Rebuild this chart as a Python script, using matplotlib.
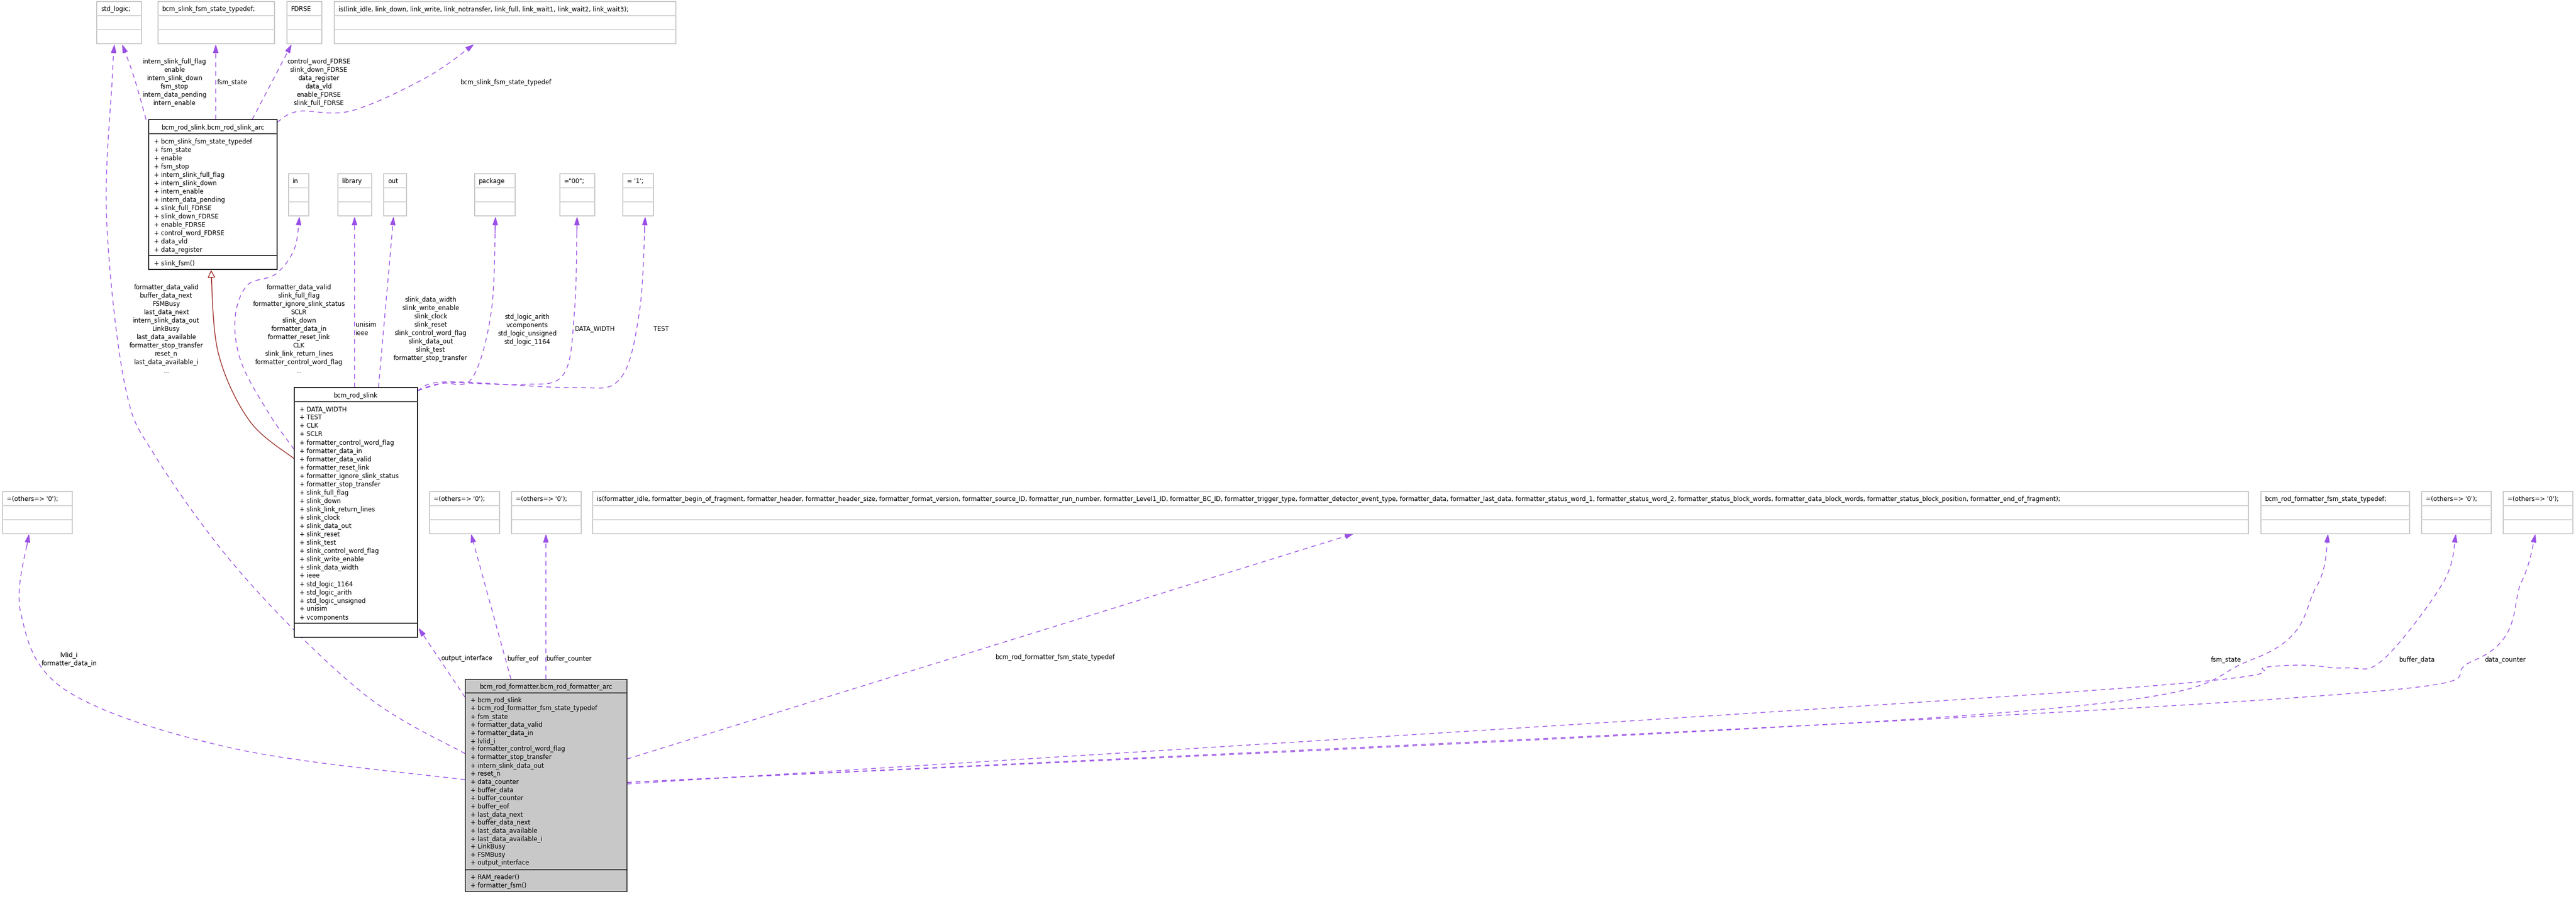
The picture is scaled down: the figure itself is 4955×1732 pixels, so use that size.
import numpy as np
import matplotlib
matplotlib.use("Agg")
import matplotlib.pyplot as plt
from matplotlib.patches import Rectangle, FancyArrowPatch

W, H = 4955, 1733
PURPLE = "#9A50E6"
FS = 8.6

# ---------------- data ----------------
top_boxes = ["std_logic;", "bcm_slink_fsm_state_typedef;", "FDRSE",
             "is(link_idle, link_down, link_write, link_notransfer, link_full, link_wait1, link_wait2, link_wait3);"]
mid_boxes = ["in", "library", "out", "package", "=\"00\";", "= '1';"]
low_boxes = ["=(others=> '0');", "=(others=> '0');", "=(others=> '0');",
             "is(formatter_idle, formatter_begin_of_fragment, formatter_header, formatter_header_size, formatter_format_version, formatter_source_ID, formatter_run_number, formatter_Level1_ID, formatter_BC_ID, formatter_trigger_type, formatter_detector_event_type, formatter_data, formatter_last_data, formatter_status_word_1, formatter_status_word_2, formatter_status_block_words, formatter_data_block_words, formatter_status_block_position, formatter_end_of_fragment);",
             "bcm_rod_formatter_fsm_state_typedef;", "=(others=> '0');", "=(others=> '0');"]

arc_title = "bcm_rod_slink.bcm_rod_slink_arc"
arc_attrs = ["bcm_slink_fsm_state_typedef", "fsm_state", "enable", "fsm_stop", "intern_slink_full_flag",
             "intern_slink_down", "intern_enable", "intern_data_pending", "slink_full_FDRSE", "slink_down_FDRSE",
             "enable_FDRSE", "control_word_FDRSE", "data_vld", "data_register"]
arc_methods = ["slink_fsm()"]

slink_title = "bcm_rod_slink"
slink_attrs = ["DATA_WIDTH", "TEST", "CLK", "SCLR", "formatter_control_word_flag", "formatter_data_in",
               "formatter_data_valid", "formatter_reset_link", "formatter_ignore_slink_status",
               "formatter_stop_transfer", "slink_full_flag", "slink_down", "slink_link_return_lines",
               "slink_clock", "slink_data_out", "slink_reset", "slink_test", "slink_control_word_flag",
               "slink_write_enable", "slink_data_width", "ieee", "std_logic_1164", "std_logic_arith",
               "std_logic_unsigned", "unisim", "vcomponents"]

fmt_title = "bcm_rod_formatter.bcm_rod_formatter_arc"
fmt_attrs = ["bcm_rod_slink", "bcm_rod_formatter_fsm_state_typedef", "fsm_state", "formatter_data_valid",
             "formatter_data_in", "lvlid_i", "formatter_control_word_flag", "formatter_stop_transfer",
             "intern_slink_data_out", "reset_n", "data_counter", "buffer_data", "buffer_counter", "buffer_eof",
             "last_data_next", "buffer_data_next", "last_data_available", "last_data_available_i",
             "LinkBusy", "FSMBusy", "output_interface"]
fmt_methods = ["RAM_reader()", "formatter_fsm()"]

lbl_stdlogic_long = ["formatter_data_valid", "buffer_data_next", "FSMBusy", "last_data_next",
                     "intern_slink_data_out", "LinkBusy", "last_data_available", "formatter_stop_transfer",
                     "reset_n", "last_data_available_i", "..."]
lbl_stdlogic_short = ["intern_slink_full_flag", "enable", "intern_slink_down", "fsm_stop",
                      "intern_data_pending", "intern_enable"]
lbl_fdrse = ["control_word_FDRSE", "slink_down_FDRSE", "data_register", "data_vld", "enable_FDRSE",
             "slink_full_FDRSE"]
lbl_in = ["formatter_data_valid", "slink_full_flag", "formatter_ignore_slink_status", "SCLR", "slink_down",
          "formatter_data_in", "formatter_reset_link", "CLK", "slink_link_return_lines",
          "formatter_control_word_flag", "..."]
lbl_lib = ["unisim", "ieee"]
lbl_out = ["slink_data_width", "slink_write_enable", "slink_clock", "slink_reset", "slink_control_word_flag",
           "slink_data_out", "slink_test", "formatter_stop_transfer"]
lbl_pkg = ["std_logic_arith", "vcomponents", "std_logic_unsigned", "std_logic_1164"]
lbl_lvl = ["lvlid_i", "formatter_data_in"]

# ---------------- drawing ----------------
fig = plt.figure(figsize=(W / 100, H / 100), dpi=100)
ax = fig.add_axes([0, 0, 1, 1])
ax.set_xlim(0, W)
ax.set_ylim(H, 0)
ax.axis("off")


def small_box(x0, x1, y0, text, rh=27, fs=FS):
    ax.add_patch(Rectangle((x0, y0), x1 - x0, 3 * rh, fill=False, ec="#c8c8c8", lw=1.4, zorder=3))
    for k in (1, 2):
        ax.plot([x0, x1], [y0 + k * rh] * 2, color="#d4d4d4", lw=1.4, zorder=3)
    ax.text(x0 + 8, y0 + rh / 2, text, fontsize=fs, va="center", ha="left", zorder=4)


def class_box(x0, x1, y0, hdr_h, title, attrs, methods, y_attr0, dy, y_sep, y_meth0, y1, face="white", ec="black"):
    ax.add_patch(Rectangle((x0, y0), x1 - x0, y1 - y0, fc=face, ec=ec, lw=1.3, zorder=3))
    ax.plot([x0, x1], [y0 + hdr_h] * 2, color="#404040", lw=1.6, zorder=4)
    ax.plot([x0, x1], [y_sep] * 2, color="#202020", lw=1.4, zorder=4)
    ax.text((x0 + x1) / 2, y0 + hdr_h / 2, title, fontsize=FS, ha="center", va="center", zorder=5)
    for i, a in enumerate(attrs):
        ax.text(x0 + 10, y_attr0 + i * dy, "+ " + a, fontsize=FS, va="center", zorder=5)
    for i, m in enumerate(methods):
        ax.text(x0 + 10, y_meth0 + i * dy, "+ " + m, fontsize=FS, va="center", zorder=5)


def smooth(pts, n=30):
    pts = np.asarray(pts, float)
    if len(pts) == 2:
        return pts
    P = np.vstack([pts[0], pts, pts[-1]])
    out = []
    for i in range(1, len(P) - 2):
        p0, p1, p2, p3 = P[i - 1], P[i], P[i + 1], P[i + 2]
        for t in np.linspace(0, 1, n, endpoint=False):
            t2, t3 = t * t, t * t * t
            out.append(0.5 * ((2 * p1) + (-p0 + p2) * t + (2 * p0 - 5 * p1 + 4 * p2 - p3) * t2
                              + (-p0 + 3 * p1 - 3 * p2 + p3) * t3))
    out.append(P[-2])
    return np.array(out)


def edge(pts, color=PURPLE, dashed=True, hollow=False):
    c = smooth(pts)
    if len(c) == 2:
        d = c[1] - c[0]
        d = d / np.hypot(*d)
        c = np.array([c[0], c[1] - 14 * d, c[1]])
        body = c[:2]
        start = c[1]
    else:
        body = c[:-2]
        start = c[-8]
    ls = (0, (6, 5)) if dashed else "-"
    ax.plot(body[:, 0], body[:, 1], color=color, lw=1.1, ls=ls, zorder=2)
    if hollow:
        ap = FancyArrowPatch(start, c[-1], arrowstyle="-|>,head_length=9,head_width=4.5",
                             color=color, fc="white", lw=1.1, zorder=2, shrinkA=0, shrinkB=0)
    else:
        ap = FancyArrowPatch(start, c[-1], arrowstyle="-|>,head_length=10,head_width=3.2",
                             color=color, lw=1.1, zorder=2, shrinkA=0, shrinkB=0)
    ax.add_patch(ap)


def label(lines, x, y, ha="center", dy=16):
    for i, s in enumerate(lines):
        ax.text(x, y + i * dy, s, fontsize=FS, ha=ha, va="center", zorder=5)


top_x = [(186, 272), (304, 528), (552, 619), (643, 1300)]
for (a, b), t in zip(top_x, top_boxes):
    small_box(a, b, 4, t, rh=27)

mid_x = [(555, 594), (650, 715), (738, 782), (913, 991), (1077, 1144), (1198, 1257)]
for (a, b), t in zip(mid_x, mid_boxes):
    small_box(a, b, 335, t, rh=27)

low_x = [(5, 139), (826, 961), (984, 1118), (1140, 4325), (4349, 4635), (4658, 4792), (4815, 4949)]
for (a, b), t in zip(low_x, low_boxes):
    small_box(a, b, 946, t, rh=27)

class_box(286, 533, 231, 27, arc_title, arc_attrs, arc_methods, 272, 16, 492, 506, 519)
class_box(566, 803, 746, 27, slink_title, slink_attrs, [], 787, 16, 1199, 1212, 1226)
class_box(895, 1206, 1307, 26, fmt_title, fmt_attrs, fmt_methods, 1346, 15.65, 1673, 1686, 1715,
          face="#c8c8c8", ec="#303030")

edge([(895, 1450), (700, 1335), (470, 1110), (300, 880), (240, 740), (205, 420), (216, 150), (220, 86)])
edge([(281, 231), (258, 150), (235, 86)])
edge([(415, 231), (415, 86)])
edge([(485, 231), (561, 86)])
edge([(533, 236), (574, 215), (676, 214), (820, 150), (912, 86)])
edge([(566, 865), (520, 800), (465, 700), (452, 615), (475, 550), (530, 528), (566, 480), (576, 417)])
edge([(682, 746), (682, 417)])
edge([(728, 746), (757, 417)])
edge([(803, 752), (850, 738), (908, 728), (945, 600), (953, 417)])
edge([(803, 752), (860, 737), (1000, 740), (1083, 722), (1105, 600), (1110, 417)])
edge([(803, 752), (860, 735), (1100, 746), (1192, 730), (1230, 600), (1241, 417)])
edge([(566, 883), (480, 810), (420, 680), (406, 520)], color="#9b2a24", dashed=False, hollow=True)
edge([(895, 1342), (805, 1208)])
edge([(983, 1307), (906, 1027)])
edge([(1050, 1307), (1050, 1027)])
edge([(1206, 1460), (2604, 1027)])
edge([(1206, 1505), (3800, 1375), (4334, 1268), (4455, 1130), (4478, 1027)])
edge([(1206, 1508), (4000, 1330), (4372, 1282), (4509, 1285), (4583, 1270), (4700, 1120), (4724, 1027)])
edge([(1206, 1505), (4300, 1350), (4760, 1270), (4850, 1120), (4877, 1027)])
edge([(895, 1500), (450, 1440), (130, 1330), (40, 1180), (56, 1027)])

label(lbl_stdlogic_long, 320, 552)
label(lbl_stdlogic_short, 336, 118)
label(["fsm_state"], 418, 158, ha="left")
label(lbl_fdrse, 613, 118)
label(["bcm_slink_fsm_state_typedef"], 974, 158)
label(lbl_in, 575, 552)
label(lbl_lib, 684, 624, ha="left")
label(lbl_out, 828, 576)
label(lbl_pkg, 1014, 609)
label(["DATA_WIDTH"], 1106, 632, ha="left")
label(["TEST"], 1257, 632, ha="left")
label(lbl_lvl, 133, 1259)
label(["output_interface"], 848, 1266, ha="left")
label(["buffer_eof"], 976, 1266, ha="left")
label(["buffer_counter"], 1051, 1266, ha="left")
label(["bcm_rod_formatter_fsm_state_typedef"], 2030, 1264)
label(["fsm_state"], 4253, 1268, ha="left")
label(["buffer_data"], 4615, 1268, ha="left")
label(["data_counter"], 4779, 1268, ha="left")

fig.savefig("out.png", dpi=100, facecolor="white")
